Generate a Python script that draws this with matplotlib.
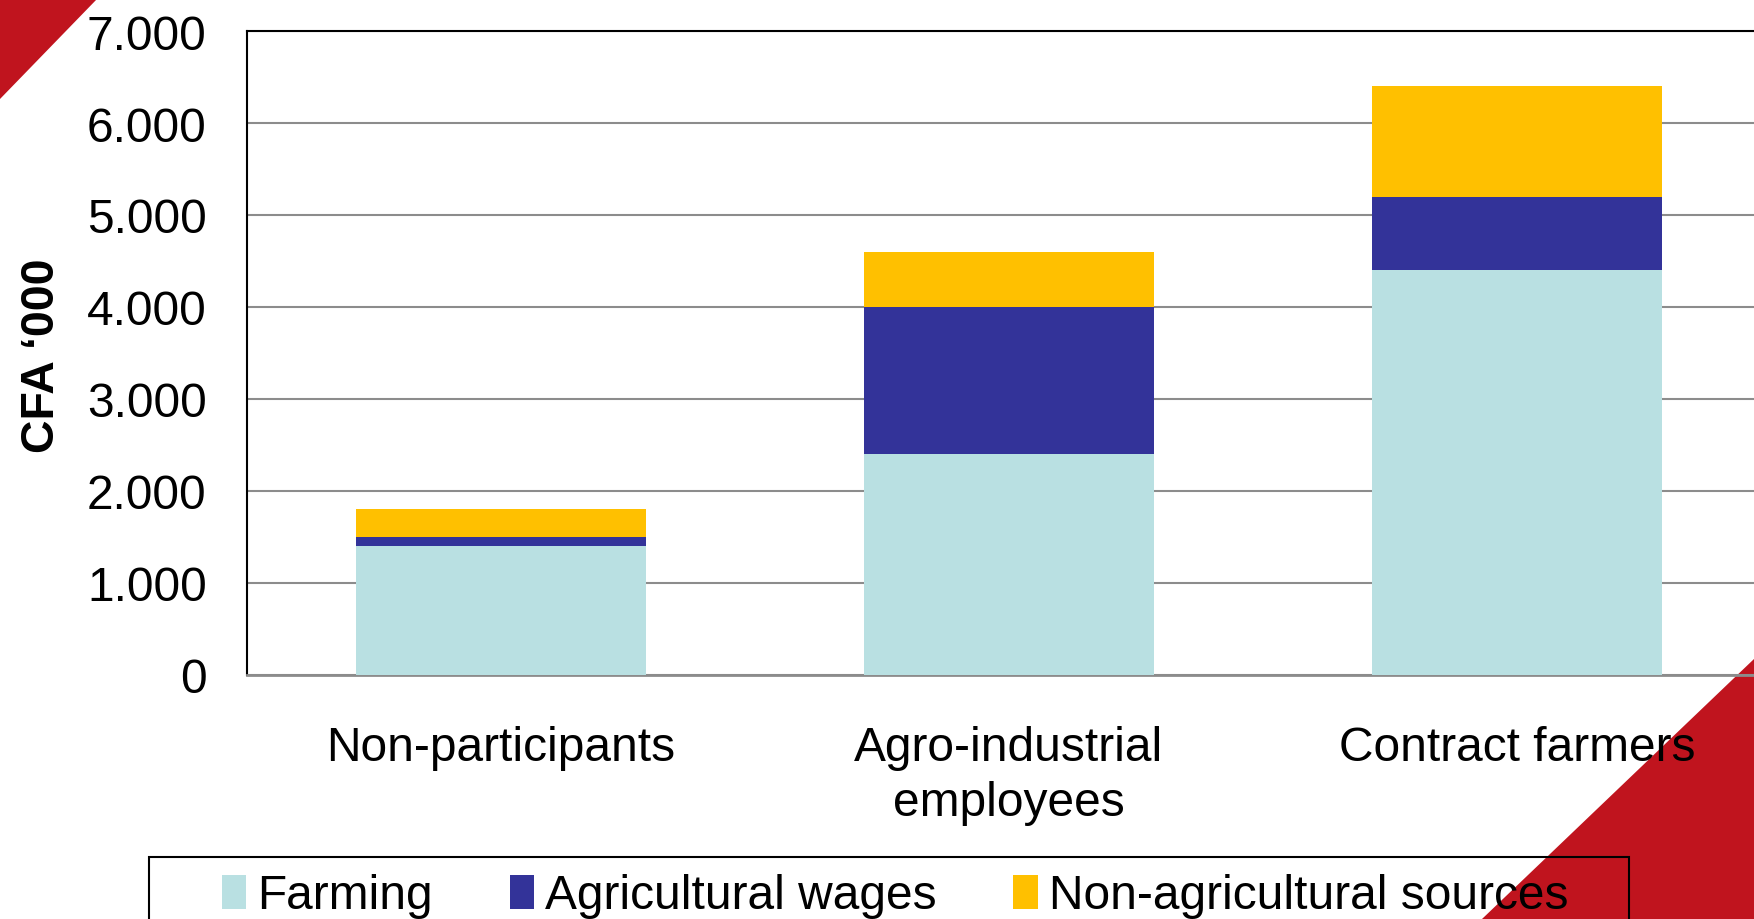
import numpy as np
import matplotlib
matplotlib.use("Agg")
import matplotlib.pyplot as plt
from matplotlib.patches import Polygon, Rectangle

categories = ["Non-participants", "Agro-industrial\nemployees", "Contract farmers"]
farming = [1400, 2400, 4400]
agri_wages = [100, 1600, 800]
non_agri = [300, 600, 1200]
series_names = ["Farming", "Agricultural wages", "Non-agricultural sources"]
colors = ["#B9E0E2", "#333399", "#FFC000"]
RED = "#C0141E"

plt.rcParams["font.family"] = ["Liberation Sans", "DejaVu Sans"]
FS = 34.5

fig = plt.figure(figsize=(17.54, 9.2), dpi=100, facecolor="white")

# red corner triangles (figure coords), drawn behind everything
W, H = 1754, 920
tri1 = [(0, 1), (97 / W, 1), (0, 1 - 100 / H)]
tri2 = [(1, 1 - 660 / H), (1482 / W, 0), (1, 0)]
for pts in (tri1, tri2):
    fig.patches.append(Polygon(pts, closed=True, transform=fig.transFigure,
                               facecolor=RED, edgecolor="none", zorder=-1))

ax = fig.add_axes([247 / W, 1 - 676 / H, 1524 / W, 644 / H])
ax.set_facecolor("none")
x = np.arange(len(categories))
width = 0.57
b1 = ax.bar(x, farming, width, color=colors[0], label=series_names[0], zorder=3)
bottom2 = np.array(farming)
b2 = ax.bar(x, agri_wages, width, bottom=bottom2, color=colors[1],
            label=series_names[1], zorder=3)
bottom3 = bottom2 + np.array(agri_wages)
b3 = ax.bar(x, non_agri, width, bottom=bottom3, color=colors[2],
            label=series_names[2], zorder=3)

ax.set_xlim(-0.5, 2.5)
ax.set_ylim(0, 7000)
ax.set_yticks(np.arange(0, 7001, 1000))
ax.set_yticklabels([f"{v:,}".replace(",", ".") for v in range(0, 7001, 1000)])
ax.set_xticks(x)
ax.set_xticklabels(categories, linespacing=1.3)
ax.tick_params(axis="both", length=0, labelsize=FS, colors="black")
ax.tick_params(axis="y", pad=29)
ax.tick_params(axis="x", pad=36)
ax.yaxis.grid(True, color="#8C8C8C", linewidth=1.5, zorder=1)
ax.set_axisbelow(True)
ax.spines["left"].set_color("black")
ax.spines["left"].set_linewidth(1.5)
ax.spines["top"].set_color("black")
ax.spines["top"].set_linewidth(1.5)
ax.spines["bottom"].set_color("#8C8C8C")
ax.spines["bottom"].set_linewidth(2)
ax.spines["right"].set_visible(False)

fig.text(42 / W, 1 - 356 / H, "CFA \u2018000", rotation=90, fontsize=33.5,
         fontweight="bold", ha="center", va="center")

# legend box runs off the bottom of the canvas, so draw the frame separately
leg_top = 1 - 858 / H
fig.patches.append(Rectangle((149 / W, -0.05), 1480 / W, leg_top + 0.05,
                             transform=fig.transFigure, facecolor="none",
                             edgecolor="black", linewidth=1.5, zorder=4))
leg = fig.legend(handles=[b1, b2, b3], labels=series_names, ncol=3,
                 loc="center", bbox_to_anchor=(895 / W, 1 - 897 / H),
                 fontsize=FS, frameon=False, handlelength=0.51, handleheight=0.7,
                 handletextpad=0.23, borderpad=0, borderaxespad=0,
                 columnspacing=1.6)
leg.set_zorder(5)

fig.savefig("out.png", dpi=100, facecolor="white")
